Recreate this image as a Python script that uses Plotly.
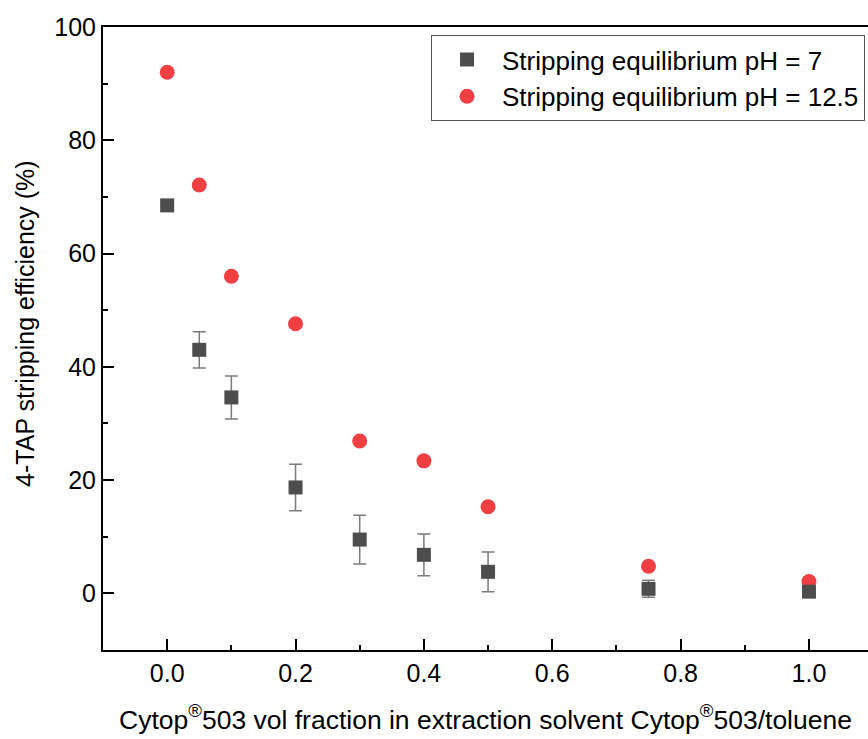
import plotly.graph_objects as go

x_vals = [0.0, 0.05, 0.1, 0.2, 0.3, 0.4, 0.5, 0.75, 1.0]
ph7 = [68.5, 43.0, 34.6, 18.7, 9.5, 6.8, 3.8, 0.8, 0.3]
ph7_err = [0.3, 3.2, 3.8, 4.1, 4.3, 3.7, 3.5, 1.5, 0.3]
ph125 = [92.0, 72.1, 56.0, 47.6, 26.9, 23.4, 15.3, 4.8, 2.1]

name7 = "Stripping equilibrium pH = 7"
name125 = "Stripping equilibrium pH = 12.5"
y_title = "4-TAP stripping efficiency (%)"
x_title = "Cytop<sup>®</sup>503 vol fraction in extraction solvent Cytop<sup>®</sup>503/toluene"

font = "Liberation Sans, Arial, sans-serif"

fig = go.Figure()
fig.add_trace(go.Scatter(
    x=x_vals, y=ph125, mode="markers", name=name125,
    marker=dict(symbol="circle", size=15, color="#f03f42"),
))
fig.add_trace(go.Scatter(
    x=x_vals, y=ph7, mode="markers", name=name7,
    marker=dict(symbol="square", size=14, color="#4d4d4d"),
    error_y=dict(type="data", array=ph7_err, visible=True, color="#7a7a7a", thickness=1.5, width=6.5),
))

fig.update_layout(
    width=868, height=739,
    margin=dict(l=103, r=0, t=27, b=89),
    paper_bgcolor="white", plot_bgcolor="white",
    font=dict(family=font, size=25, color="black"),
    legend=dict(
        x=0.4288, y=0.987, xanchor="left", yanchor="top",
        bordercolor="#555555", borderwidth=1, bgcolor="white",
        font=dict(size=26), itemwidth=60, traceorder="reversed",
        tracegroupgap=0,
    ),
    showlegend=True,
    annotations=[dict(
        text=y_title, textangle=-90, xref="paper", yref="paper",
        x=-0.102, y=0.525, xanchor="center", yanchor="middle",
        showarrow=False, font=dict(size=25),
    )],
)
fig.update_xaxes(
    range=[-0.1, 1.092], tickvals=[0.0, 0.2, 0.4, 0.6, 0.8, 1.0],
    ticktext=["0.0", "0.2", "0.4", "0.6", "0.8", "1.0"],
    ticks="inside", ticklen=11, tickwidth=2, tickcolor="black",
    minor=dict(dtick=0.1, tick0=0, ticks="inside", ticklen=5, tickwidth=2, tickcolor="black"),
    showline=True, linewidth=2, linecolor="black", mirror=True,
    showgrid=False, zeroline=False,
    title=dict(text=x_title, font=dict(size=26.5), standoff=24),
    tickfont=dict(size=25),
)
fig.update_yaxes(
    range=[-10, 100], tickvals=[0, 20, 40, 60, 80, 100],
    ticks="inside", ticklen=11, tickwidth=2, tickcolor="black",
    minor=dict(dtick=10, tick0=0, ticks="inside", ticklen=5, tickwidth=2, tickcolor="black"),
    showline=True, linewidth=2, linecolor="black", mirror=False,
    showgrid=False, zeroline=False,
    tickfont=dict(size=25),
)

fig.write_html("out.html")
